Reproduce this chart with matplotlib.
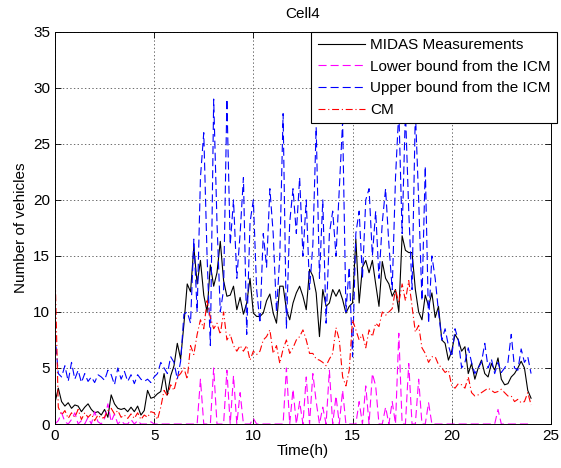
import numpy as np
import matplotlib
matplotlib.use('Agg')
import matplotlib.pyplot as plt

plt.rcParams['font.family'] = ['Liberation Sans', 'DejaVu Sans']
plt.rcParams['font.size'] = 11
plt.rcParams['lines.scale_dashes'] = False

# 10 minute samples, 0h .. 24h
time_h = np.linspace(0, 24, 145)

midas = [1.9, 3.2, 2.0, 1.6, 1.9, 1.4, 1.7, 1.6, 1.1, 1.5, 1.8, 1.3,
         1.0, 1.1, 0.8, 1.3, 0.6, 2.6, 1.8, 1.4, 1.3, 1.4, 1.1, 1.5,
         1.1, 1.6, 0.8, 1.2, 3.0, 2.3, 2.4, 2.7, 2.9, 4.5, 2.6, 4.3,
         5.2, 7.2, 5.8, 8.9, 12.5, 11.8, 15.8, 12.5, 14.6, 11.5, 10.0, 14.2,
         12.3, 13.5, 16.3, 12.8, 11.4, 11.5, 12.3, 10.2, 11.3, 9.8, 10.8, 13.0,
         9.9, 9.6, 9.6, 9.9, 11.0, 11.6, 9.9, 9.0, 12.3, 12.3, 10.2, 9.3,
         10.8, 11.7, 12.3, 11.4, 10.2, 13.8, 13.2, 11.7, 7.8, 12.0, 10.5, 10.8,
         12.0, 11.4, 12.0, 11.1, 9.9, 10.5, 10.8, 16.5, 10.8, 14.0, 14.6, 13.5,
         14.6, 12.5, 10.5, 14.5, 13.0, 12.5, 11.4, 12.0, 10.0, 16.8, 15.5, 15.3,
         15.3, 12.0, 10.0, 9.3, 11.5, 10.5, 11.7, 9.5, 10.5, 7.5, 7.2, 5.7,
         6.5, 8.0, 7.5, 6.5, 6.9, 4.5, 5.4, 4.0, 5.0, 5.7, 4.5, 4.2,
         5.4, 4.8, 5.9, 4.0, 3.5, 3.6, 4.2, 4.5, 5.0, 5.6, 5.0, 3.0,
         2.3]

lower_icm = [0, 0.3, 1.0, 0.2, 0, 0.4, 1.0, 0, 0.3, 0, 0.6, 0,
             1.1, 0.2, 0, 0.5, 1.8, 0.2, 0.9, 0, 0.3, 0, 0, 0.4,
             0, 0.3, 0, 0, 0, 0.2, 0, 0, 0, 0, 0, 0,
             0, 0, 0, 0, 0, 0, 0, 0, 4.0, 0, 0, 0,
             5.0, 0, 0, 0, 4.8, 0, 4.3, 0, 2.8, 0, 0, 0,
             0.5, 0, 0, 0, 0, 0, 0, 0, 0, 0, 5.0, 0,
             3.1, 0, 2.0, 0, 4.2, 0, 4.5, 2.0, 0, 1.5, 0, 4.8,
             0, 2.5, 0, 3.0, 0, 0, 0, 0, 2.0, 0, 3.4, 0,
             4.5, 3.4, 0, 0, 1.5, 0, 2.0, 0, 8.1, 0, 0, 5.4,
             0, 0, 4.0, 0, 0, 1.9, 0, 0, 0, 0, 0, 0,
             0, 0, 0, 0, 0, 0, 0, 0, 0, 0, 0, 0,
             0, 0, 1.3, 0, 0, 0, 0, 0, 0, 0, 0, 0,
             0]

upper_icm = [8.0, 4.5, 4.2, 5.2, 3.8, 5.5, 4.0, 4.8, 3.7, 4.5, 3.8, 4.2,
             3.7, 4.4, 4.2, 3.9, 4.8, 4.4, 3.5, 5.0, 4.0, 4.7, 3.8, 4.4,
             3.6, 4.4, 4.0, 3.8, 4.0, 3.7, 4.2, 4.5, 5.5, 5.0, 4.5, 6.0,
             5.5, 4.0, 5.6, 9.8, 10.0, 9.0, 16.5, 10.0, 22.0, 26.0, 15.0, 7.0,
             29.0, 18.0, 10.0, 12.0, 29.0, 16.0, 20.0, 13.0, 17.0, 22.0, 8.0, 18.0,
             20.0, 12.0, 9.0, 17.0, 14.0, 21.0, 17.0, 10.0, 15.0, 27.7, 8.5, 18.0,
             21.0, 17.0, 22.0, 15.0, 20.0, 12.0, 16.0, 26.5, 13.0, 20.0, 9.0, 17.0,
             19.0, 15.0, 21.0, 27.0, 10.0, 14.0, 6.0, 17.0, 19.0, 13.0, 20.0, 21.0,
             15.0, 19.0, 13.0, 18.0, 21.0, 16.0, 12.0, 22.0, 28.0, 17.0, 28.0, 19.0,
             12.0, 28.0, 20.0, 11.0, 23.0, 9.0, 15.0, 13.0, 10.0, 7.5, 8.5, 7.0,
             6.0, 8.5, 7.5, 5.0, 5.5, 6.8, 5.5, 4.5, 5.0, 5.5, 7.2, 5.0,
             5.8, 4.5, 5.5, 4.6, 5.0, 5.5, 8.0, 5.0, 4.8, 6.7, 5.5, 6.0,
             4.5]

cm = [14.0, 1.5, 0.8, 1.2, 0.5, 1.0, 0.6, 1.3, 0.4, 1.0, 0.6, 0.9,
      0.3, 0.8, 0.5, 0.6, 1.2, 1.4, 0.9, 1.2, 0.6, 0.8, 0.5, 0.9,
      0.5, 1.0, 0.4, 0.8, 0.6, 1.1, 1.0, 0.4, 1.5, 3.0, 2.5, 3.5,
      3.0, 4.2, 4.5, 5.0, 4.0, 7.0, 6.2, 8.0, 9.3, 8.5, 11.0, 9.5,
      8.5, 9.0, 8.0, 10.0, 7.5, 8.0, 7.0, 6.5, 7.0, 6.5, 7.0, 5.7,
      6.5, 6.2, 6.5, 7.5, 7.8, 8.4, 6.3, 7.0, 5.4, 6.7, 7.5, 6.3,
      6.8, 7.5, 7.8, 8.4, 7.5, 6.3, 6.3, 5.8, 5.7, 5.5, 5.2, 5.8,
      6.3, 8.6, 7.5, 4.2, 3.4, 4.8, 9.3, 8.4, 7.5, 8.0, 6.8, 8.4,
      7.8, 9.0, 8.7, 10.0, 9.7, 10.0, 10.3, 12.0, 10.8, 12.5, 11.0, 12.8,
      10.5, 8.2, 8.8, 6.8, 6.3, 5.5, 6.0, 6.0, 5.3, 5.0, 4.6, 4.8,
      3.4, 3.2, 3.6, 3.5, 3.2, 4.2, 2.8, 2.5, 2.6, 2.8, 3.0, 3.2,
      3.0, 2.8, 2.9, 3.1, 2.8, 2.5, 2.5, 2.0, 2.2, 1.9, 2.0, 2.8,
      1.7]

fig = plt.figure(figsize=(5.61, 4.68), dpi=100)
ax = fig.add_axes([0.098, 0.094, 0.884, 0.838])

ax.plot(time_h, midas, color='k', lw=0.8, label='MIDAS Measurements')
ax.plot(time_h, lower_icm, color='#ff00ff', lw=0.8, dashes=(5.8, 2.9),
        label='Lower bound from the ICM')
ax.plot(time_h, upper_icm, color='#0000ff', lw=0.8, dashes=(5.8, 2.9),
        label='Upper bound from the ICM')
ax.plot(time_h, cm, color='#ff0000', lw=0.8, dashes=(5.0, 2.0, 0.8, 2.0),
        label='CM')

ax.set_xlim(0, 25)
ax.set_ylim(0, 35)
ax.set_xticks(range(0, 26, 5))
ax.set_yticks(range(0, 36, 5))
ax.grid(True, linestyle=':', color='#555555', lw=0.6)
ax.tick_params(direction='in', top=True, right=True, length=4, width=0.6)
for s in ax.spines.values():
    s.set_linewidth(0.7)

ax.set_title('Cell4', fontsize=11, pad=10)
ax.set_xlabel('Time(h)', labelpad=1)
ax.set_ylabel('Number of vehicles', labelpad=4)

leg = ax.legend(loc='upper right', bbox_to_anchor=(557 / 561, 436 / 468),
                bbox_transform=fig.transFigure, borderaxespad=0,
                fancybox=False, framealpha=1, edgecolor='k',
                handlelength=3.1, handletextpad=0.35, labelspacing=0.5,
                borderpad=0.4)
leg.get_frame().set_linewidth(0.8)

plt.savefig('out.png', dpi=100)
